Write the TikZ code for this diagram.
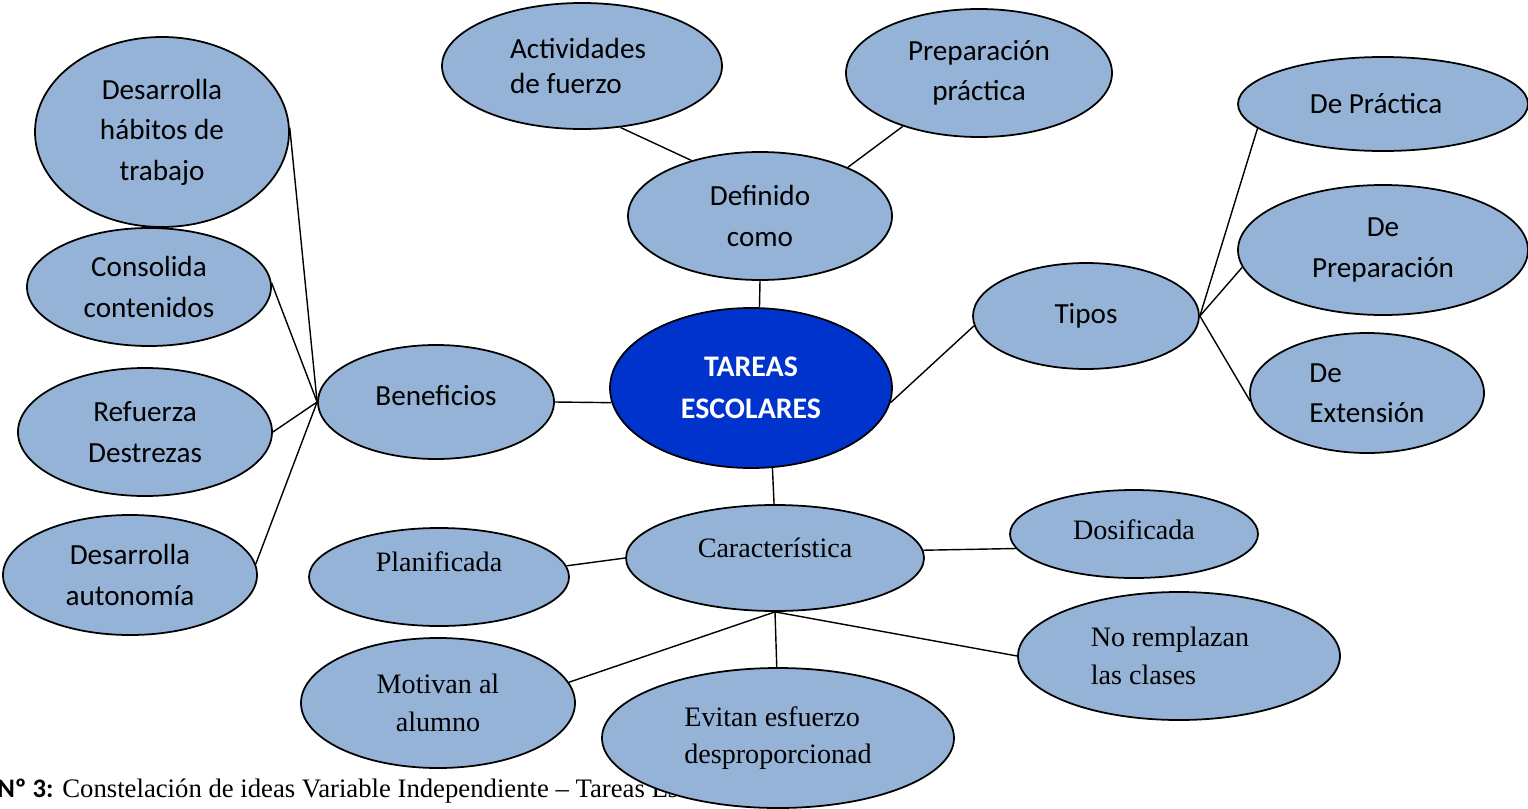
\documentclass[tikz,border=0pt]{standalone}
\usepackage{fontspec}
\setmainfont{Liberation Serif}
\newfontfamily\cali{Carlito}
\usetikzlibrary{shapes.geometric}
\definecolor{ideafill}{RGB}{149,179,215}
\definecolor{centrofill}{RGB}{0,51,204}
\newlength\pxu
\setlength\pxu{0.02cm}
\begin{document}
\begin{tikzpicture}[x=0.02cm, y=-0.02cm,
		idea/.style={ellipse, draw=black, line width=1pt, fill=ideafill, inner sep=0pt, align=center, font=\cali\fontsize{16.6}{23}\selectfont},
		ideat/.style={idea, font=\fontsize{16}{21.5}\selectfont},
		centro/.style={idea, fill=centrofill, text=white, font=\cali\bfseries\fontsize{17}{24}\selectfont},
		linea/.style={line width=0.8pt}]
		\useasboundingbox (0,0) rectangle (1528,808);

		\node (pie) [anchor=base west, inner sep=0pt, font=\fontsize{15.2}{17}\selectfont] at (-3,797) {{\cali\bfseries Nº 3:} Constelación de ideas Variable Independiente – Tareas Escolares};

		\node (tareas) [centro, minimum width=282\pxu, minimum height=160\pxu] at (751,388) {TAREAS\\ESCOLARES};

		\node (def) [idea, minimum width=264\pxu, minimum height=128\pxu] at (760,216) {Definido\\como};
		\node (act) [idea, minimum width=280\pxu, minimum height=126\pxu, align=left, font=\cali\fontsize{16.6}{20}\selectfont] at (582,66) {Actividades\hspace*{8\pxu}\\de fuerzo};
		\node (prep) [idea, minimum width=266\pxu, minimum height=128\pxu] at (979,73) {Preparación\\práctica};

		\node (tipos) [idea, minimum width=226\pxu, minimum height=106\pxu] at (1086,316) {Tipos};
		\node (tpra) [idea, minimum width=290\pxu, minimum height=94\pxu] at (1383,104) {De Práctica\hspace*{14\pxu}};
		\node (tpre) [idea, minimum width=290\pxu, minimum height=130\pxu] at (1383,250) {De\\Preparación};
		\node (text) [idea, minimum width=234\pxu, minimum height=120\pxu, align=left] at (1367,393) {De\\Extensión};

		\node (benef) [idea, minimum width=236\pxu, minimum height=114\pxu, text depth=14\pxu] at (436,402) {Beneficios};
		\node (hab) [idea, minimum width=254\pxu, minimum height=190\pxu] at (162,132) {Desarrolla\\hábitos de\\trabajo};
		\node (cons) [idea, minimum width=244\pxu, minimum height=118\pxu] at (149,287) {Consolida\\contenidos};
		\node (ref) [idea, minimum width=254\pxu, minimum height=128\pxu] at (145,432) {Refuerza\\Destrezas};
		\node (auto) [idea, minimum width=254\pxu, minimum height=120\pxu] at (130,575) {Desarrolla\\autonomía};

		\node (car) [ideat, minimum width=298\pxu, minimum height=106\pxu, text depth=20\pxu] at (775,558) {Característica};
		\node (plan) [ideat, minimum width=260\pxu, minimum height=98\pxu, text depth=30\pxu] at (439,577) {Planificada};
		\node (dos) [ideat, minimum width=248\pxu, minimum height=88\pxu, text depth=8\pxu] at (1134,534) {Dosificada};
		\node (norem) [ideat, minimum width=322\pxu, minimum height=128\pxu, align=left] at (1179,656) {No remplazan\hspace*{18\pxu}\\las clases};
		\node (mot) [ideat, minimum width=274\pxu, minimum height=130\pxu] at (438,703) {Motivan al\\alumno};
		\node (evi) [ideat, minimum width=352\pxu, minimum height=140\pxu, align=left] at (778,738) {Evitan esfuerzo\\desproporcionad};

		\draw[linea] (def.south) -- (tareas.84);
		\draw[linea] (act.-58) -- (def.141);
		\draw[linea] (prep.215) -- (def.29);
		\draw[linea] (tareas.-6) -- (tipos.185);
		\draw[linea] (tipos.east) -- (tpra.191);
		\draw[linea] (tipos.east) -- (tpre.187);
		\draw[linea] (tipos.east) -- (text.184);
		\draw[linea] (benef.east) -- (tareas.186);
		\draw[linea] (benef.west) -- (hab.2);
		\draw[linea] (benef.west) -- (cons.2);
		\draw[linea] (benef.west) -- (ref.east);
		\draw[linea] (benef.west) -- (auto.5);
		\draw[linea] (tareas.-75) -- (car.91);
		\draw[linea] (car.3) -- (dos.187);
		\draw[linea] (car.west) -- (plan.5);
		\draw[linea] (car.south) -- (mot.9);
		\draw[linea] (car.south) -- (evi.91);
		\draw[linea] (car.south) -- (norem.west);

	\end{tikzpicture}
\end{document}
